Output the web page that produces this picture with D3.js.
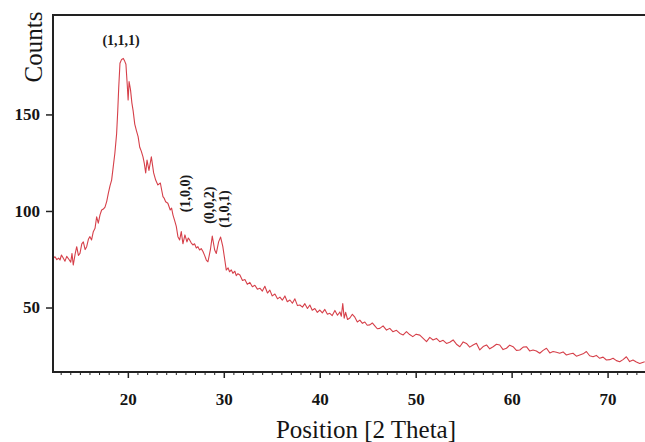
<!DOCTYPE html>
<html>
<head>
<meta charset="utf-8">
<script src="https://cdn.jsdelivr.net/npm/d3@7.9.0/dist/d3.min.js"></script>
<style>
  body { margin: 0; background: #fff; }
  svg { display: block; }
  .tick text { font-family: 'Liberation Serif', 'Times New Roman', serif; font-weight: bold; font-size: 17px; fill: #151515; }
  .tick line { stroke: #222; stroke-width: 1.5; }
  .minor .tick line { stroke-width: 1; }
</style>
</head>
<body>
<svg id="chart" width="645" height="442"></svg>
<script>
// XRD pattern
const twoTheta = [
  12.20, 12.41, 12.60, 12.78, 12.93, 13.08, 13.25, 13.45, 13.63, 13.85,
  14.05, 14.18, 14.31, 14.50, 14.67, 14.85, 15.01, 15.20, 15.36, 15.55,
  15.71, 15.90, 16.05, 16.22, 16.40, 16.58, 16.75, 16.92, 17.10, 17.27,
  17.45, 17.62, 17.80, 17.96, 18.14, 18.31, 18.48, 18.65, 18.83, 18.95,
  19.05, 19.18, 19.35, 19.53, 19.68, 19.80, 19.93, 20.03, 20.13, 20.28,
  20.42, 20.55, 20.72, 20.90, 21.07, 21.24, 21.40, 21.58, 21.72, 21.86,
  22.00, 22.20, 22.45, 22.69, 22.90, 23.13, 23.39, 23.52, 23.66, 23.80,
  23.94, 24.17, 24.42, 24.56, 24.70, 24.88, 25.05, 25.22, 25.40, 25.57,
  25.74, 25.95, 26.16, 26.30, 26.44, 26.60, 26.78, 26.95, 27.14, 27.30,
  27.48, 27.65, 27.83, 28.00, 28.18, 28.35, 28.60, 28.80, 29.05, 29.22,
  29.46, 29.67, 29.90, 30.08, 30.26, 30.45, 30.60, 30.78, 30.95, 31.15,
  31.30, 31.47, 31.68, 31.95, 32.20, 32.45, 32.72, 32.98, 33.24, 33.50,
  33.76, 34.02, 34.28, 34.55, 34.80, 35.05, 35.33, 35.60, 35.85, 36.10,
  36.37, 36.62, 36.89, 37.15, 37.41, 37.68, 37.93, 38.20, 38.45, 38.72,
  38.97, 39.22, 39.49, 39.75, 40.01, 40.27, 40.53, 40.80, 41.05, 41.30,
  41.58, 41.85, 42.10, 42.25, 42.40, 42.55, 42.70, 42.90, 43.14, 43.40,
  43.66, 43.92, 44.18, 44.45, 44.70, 44.95, 45.22, 45.48, 45.74, 46.00,
  46.26, 46.60, 46.96, 47.30, 47.62, 48.00, 48.35, 48.70, 49.04, 49.37,
  49.70, 50.05, 50.43, 50.78, 51.13, 51.47, 51.81, 52.16, 52.51, 52.86,
  53.21, 53.55, 53.90, 54.25, 54.60, 54.95, 55.29, 55.63, 55.98, 56.33,
  56.68, 57.03, 57.38, 57.72, 58.07, 58.42, 58.76, 59.11, 59.46, 59.80,
  60.15, 60.50, 60.85, 61.20, 61.54, 61.88, 62.23, 62.58, 62.93, 63.28,
  63.63, 63.98, 64.32, 64.67, 65.01, 65.36, 65.71, 66.05, 66.40, 66.75,
  67.10, 67.45, 67.79, 68.13, 68.48, 68.83, 69.18, 69.53, 69.88, 70.22,
  70.57, 70.92, 71.26, 71.61, 71.96, 72.30, 72.65, 73.00, 73.35, 73.87
];
const counts = [
  75.5, 76.3, 74.8, 75.6, 74.6, 77.2, 75.8, 74.0, 76.5, 75.0,
  73.5, 78.0, 72.0, 77.5, 81.5, 77.0, 78.0, 83.0, 84.0, 80.0,
  81.5, 85.5, 86.7, 85.0, 89.3, 91.0, 97.0, 93.7, 98.0, 100.5,
  101.0, 102.0, 105.0, 109.0, 113.0, 116.0, 123.0, 130.0, 140.0, 152.0,
  164.0, 176.5, 178.5, 179.0, 177.5, 176.0, 166.0, 157.5, 167.0, 162.7,
  156.0, 152.0, 145.0, 141.5, 138.5, 133.0, 131.0, 128.0, 124.5, 119.7,
  126.4, 121.0, 128.0, 119.7, 116.0, 113.5, 114.5, 111.0, 107.4, 106.5,
  104.8, 104.0, 100.5, 101.5, 98.0, 95.0, 92.0, 86.7, 85.0, 89.3,
  83.0, 87.6, 84.0, 86.0, 85.0, 83.5, 82.4, 83.0, 80.8, 81.5,
  79.8, 80.5, 79.0, 77.0, 74.6, 73.7, 79.8, 87.0, 79.8, 78.0,
  84.0, 86.5, 81.5, 75.5, 69.4, 70.5, 68.5, 69.5, 67.7, 68.8,
  66.5, 67.5, 66.8, 64.0, 64.5, 62.0, 63.0, 60.8, 61.5, 59.5,
  60.0, 58.5, 61.0, 57.5, 59.0, 56.0, 57.0, 54.5, 55.4, 53.8,
  56.0, 53.0, 53.9, 52.2, 54.5, 51.0, 51.3, 50.2, 52.0, 49.5,
  51.3, 48.6, 49.5, 47.5, 48.7, 47.2, 49.0, 46.5, 47.0, 45.8,
  48.5, 46.0, 47.7, 45.5, 52.0, 44.5, 47.5, 43.8, 44.6, 46.5,
  45.0, 42.5, 43.5, 41.8, 42.5, 40.8, 41.0, 42.0, 40.5, 39.0,
  39.2, 40.5, 38.3, 39.2, 37.5, 38.2, 36.6, 35.8, 37.5, 36.0,
  34.9, 36.2, 35.7, 34.0, 32.3, 34.5, 33.2, 34.0, 32.3, 33.0,
  31.4, 32.0, 33.2, 31.0, 29.7, 32.2, 31.4, 29.5, 30.6, 31.5,
  28.0, 29.8, 30.6, 28.6, 29.7, 31.0, 30.6, 28.2, 28.9, 30.5,
  29.7, 27.8, 28.0, 29.5, 29.7, 27.5, 28.0, 27.5, 26.3, 27.8,
  28.9, 26.5, 27.2, 26.8, 26.3, 27.0, 25.4, 25.9, 26.3, 24.8,
  25.4, 26.0, 27.2, 25.0, 24.5, 25.2, 23.7, 24.3, 22.8, 23.0,
  23.7, 22.5, 21.9, 23.0, 24.5, 22.0, 22.8, 21.8, 21.0, 21.9
];

const xTicks = [20, 30, 40, 50, 60, 70];
const yTicks = [50, 100, 150];

// Miller indices and where they sit (2θ, counts)
const peakNames = ['(1,1,1)', '(1,0,0)', '(0,0,2)', '(1,0,1)'];
const peakTheta = [19.3, 25.95, 28.45, 30.0];
const peakCount = [186, 109, 103, 101];

const W = 645, H = 442;
const plot = { left: 53, top: 15, right: 645, bottom: 372 };

const svg = d3.select('#chart');

const x = d3.scaleLinear().domain([12.2, 73.9]).range([plot.left, plot.right]);
const y = d3.scaleLinear().domain([16.6, 201.5]).range([plot.bottom, plot.top]);

svg.append('defs').append('clipPath').attr('id', 'clip')
  .append('rect')
  .attr('x', plot.left).attr('y', plot.top)
  .attr('width', plot.right - plot.left).attr('height', plot.bottom - plot.top);

// minor ticks on x, every degree
const minorVals = d3.range(13, 74).filter(v => !xTicks.includes(v));
svg.append('g')
  .attr('class', 'minor')
  .attr('transform', `translate(0,${plot.bottom})`)
  .call(d3.axisBottom(x).tickValues(minorVals).tickSize(3).tickFormat(''))
  .call(g => g.select('.domain').remove());

svg.append('g')
  .attr('transform', `translate(0,${plot.bottom})`)
  .call(d3.axisBottom(x).tickValues(xTicks).tickSize(6).tickPadding(15).tickFormat(d3.format('d')))
  .call(g => g.select('.domain').remove());

svg.append('g')
  .attr('transform', `translate(${plot.left},0)`)
  .call(d3.axisLeft(y).tickValues(yTicks).tickSize(7).tickPadding(6))
  .call(g => g.select('.domain').remove());

// the pattern itself
const points = twoTheta.map((t, i) => [t, counts[i]]);
const line = d3.line().x(d => x(d[0])).y(d => y(d[1]));

svg.append('path')
  .datum(points)
  .attr('clip-path', 'url(#clip)')
  .attr('d', line)
  .attr('fill', 'none')
  .attr('stroke', '#d6404a')
  .attr('stroke-width', 1.1)
  .attr('stroke-linejoin', 'round');

// frame: left, top and bottom (right side runs off the picture)
const frame = svg.append('g').attr('stroke', '#222').attr('stroke-width', 2).attr('fill', 'none');
frame.append('line').attr('x1', plot.left).attr('x2', plot.left).attr('y1', plot.top - 1).attr('y2', plot.bottom + 1);
frame.append('line').attr('x1', plot.left).attr('x2', W).attr('y1', plot.top).attr('y2', plot.top);
frame.append('line').attr('x1', plot.left).attr('x2', W).attr('y1', plot.bottom).attr('y2', plot.bottom);

// peak labels
peakNames.forEach((name, i) => {
  const px = x(peakTheta[i]), py = y(peakCount[i]);
  const t = svg.append('text')
    .attr('font-family', "'Liberation Serif', 'Times New Roman', serif")
    .attr('font-weight', 'bold')
    .attr('font-size', 14)
    .attr('fill', '#1a1a1a')
    .attr('text-anchor', 'middle')
    .text(name);
  if (i === 0) {
    t.attr('x', px).attr('y', py);
  } else {
    t.attr('transform', `translate(${px + 5},${py}) rotate(-90)`);
  }
});

// axis titles
svg.append('text')
  .attr('transform', `translate(42,47) rotate(-90)`)
  .attr('text-anchor', 'middle')
  .attr('font-family', "'Liberation Serif', 'Times New Roman', serif")
  .attr('font-size', 25)
  .attr('fill', '#151515')
  .text('Counts');

svg.append('text')
  .attr('x', 366).attr('y', 438)
  .attr('text-anchor', 'middle')
  .attr('font-family', "'Liberation Serif', 'Times New Roman', serif")
  .attr('font-size', 25)
  .attr('fill', '#151515')
  .text('Position [2 Theta]');
</script>
</body>
</html>
